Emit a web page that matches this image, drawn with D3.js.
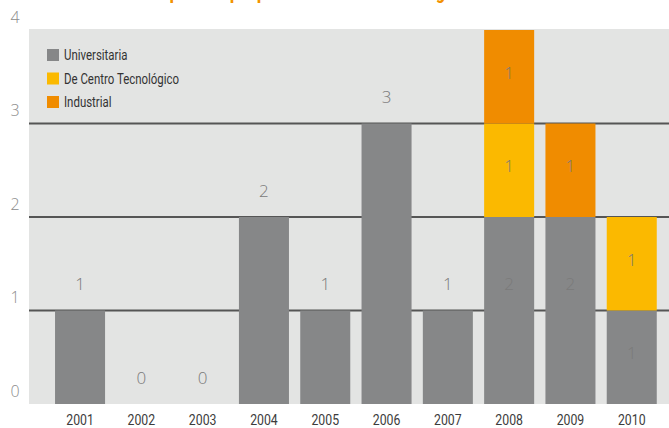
<!DOCTYPE html>
<html lang="es">
<head>
<meta charset="UTF-8">
<title>Spin-offs</title>
<script src="https://d3js.org/d3.v7.min.js"></script>
<style>
  body { margin: 0; background: #fff; }
  .title { font-family: Roboto, sans-serif; font-weight: 900; font-size: 19px; fill: #f39200; }
  .ytick { font-family: "Open Sans", sans-serif; font-weight: 300; font-size: 16px; fill: #8c8c8c; }
  .xtick { font-family: Roboto, sans-serif; font-size: 15px; fill: #3c3c3c; }
  .val { font-family: "Open Sans", sans-serif; font-weight: 300; font-size: 17px; fill: #7a7a7a; }
  .legend { font-family: Roboto, sans-serif; font-size: 14.5px; fill: #333; }
</style>
</head>
<body>
<svg width="669" height="428"></svg>
<script>
  const years = ["2001", "2002", "2003", "2004", "2005", "2006", "2007", "2008", "2009", "2010"];
  const universitaria = [1, 0, 0, 2, 1, 3, 1, 2, 2, 1];
  const centroTec = [0, 0, 0, 0, 0, 0, 0, 1, 0, 1];
  const industrial = [0, 0, 0, 0, 0, 0, 0, 1, 1, 0];
  const seriesNames = ["Universitaria", "De Centro Tecnológico", "Industrial"];
  const colors = ["#868788", "#fbb900", "#f08c00"];
  const yTicks = [0, 1, 2, 3, 4];

  const svg = d3.select("svg");
  const plot = { left: 29, right: 669, top: 29, bottom: 404 };

  const x = d3.scaleBand()
      .domain(years)
      .range([49.4, 662.4])
      .paddingInner(0.184)
      .paddingOuter(0.092);

  const y = d3.scaleLinear().domain([0, 4]).range([404, 30]);

  // title, cut off by the top edge like in the source
  svg.append("text")
      .attr("class", "title")
      .attr("x", 160).attr("y", -1)
      .attr("textLength", 380)
      .attr("lengthAdjust", "spacingAndGlyphs")
      .text("Spin-offs por procedencia de la tecnología 2001-2010");

  // plot background
  svg.append("rect")
      .attr("x", plot.left).attr("y", plot.top)
      .attr("width", plot.right - plot.left)
      .attr("height", plot.bottom - plot.top)
      .attr("fill", "#e3e4e3");

  // gridlines
  svg.append("g").selectAll("line")
      .data([1, 2, 3])
      .join("line")
      .attr("x1", plot.left).attr("x2", plot.right)
      .attr("y1", d => y(d)).attr("y2", d => y(d))
      .attr("stroke", "#555")
      .attr("stroke-width", 2);

  // y labels
  svg.append("g").selectAll("text")
      .data(yTicks)
      .join("text")
      .attr("class", "ytick")
      .attr("x", 15)
      .attr("y", d => y(d) - 13)
      .attr("dy", "0.35em")
      .attr("text-anchor", "middle")
      .text(d => d);

  // stacked bars
  const rows = years.map((yr, i) => ({
      year: yr,
      u: universitaria[i],
      c: centroTec[i],
      ind: industrial[i]
  }));
  const layers = d3.stack().keys(["u", "c", "ind"])(rows);

  svg.append("g").selectAll("g")
      .data(layers)
      .join("g")
      .attr("fill", (d, i) => colors[i])
      .selectAll("rect")
      .data(d => d)
      .join("rect")
      .attr("x", d => x(d.data.year))
      .attr("width", x.bandwidth())
      .attr("y", d => y(d[1]))
      .attr("height", d => y(d[0]) - y(d[1]));

  // value labels: above single bars, inside stacked segments
  const labels = [];
  rows.forEach(r => {
      const total = r.u + r.c + r.ind;
      if (total === r.u) labels.push({ year: r.year, v: total, y: y(total) - 26 });
  });
  layers.forEach(layer => {
      layer.forEach(d => {
          const r = d.data;
          const v = d[1] - d[0];
          if (r.u + r.c + r.ind !== r.u && v > 0) {
              labels.push({ year: r.year, v: v, y: Math.min((y(d[0]) + y(d[1])) / 2 - 4, y(d[1]) + 67) });
          }
      });
  });

  svg.append("g").selectAll("text")
      .data(labels)
      .join("text")
      .attr("class", "val")
      .attr("x", d => x(d.year) + x.bandwidth() / 2)
      .attr("y", d => d.y)
      .attr("dy", "0.35em")
      .attr("text-anchor", "middle")
      .text(d => d.v);

  // x labels (narrowed to mimic the condensed face)
  svg.append("g").selectAll("text")
      .data(years)
      .join("text")
      .attr("class", "xtick")
      .attr("transform", d => `translate(${x(d) + x.bandwidth() / 2}, 420) scale(0.82, 1)`)
      .attr("dy", "0.35em")
      .attr("text-anchor", "middle")
      .text(d => d);

  // legend
  const legend = svg.append("g").selectAll("g")
      .data(seriesNames)
      .join("g")
      .attr("transform", (d, i) => `translate(47, ${49 + i * 23.5})`);
  legend.append("rect")
      .attr("width", 12).attr("height", 12)
      .attr("fill", (d, i) => colors[i]);
  legend.append("text")
      .attr("class", "legend")
      .attr("transform", "translate(17, 6) scale(0.79, 1)")
      .attr("dy", "0.35em")
      .text(d => d);
</script>
</body>
</html>
